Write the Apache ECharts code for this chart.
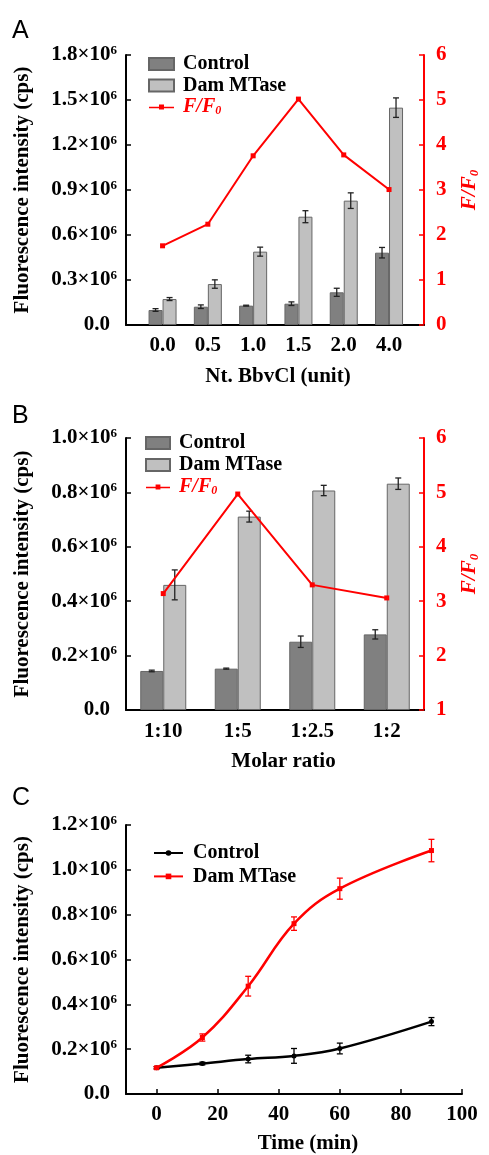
<!DOCTYPE html>
<html><head><meta charset="utf-8">
<script src="https://cdn.jsdelivr.net/npm/echarts@6/dist/echarts.min.js"></script>
<style>html,body{margin:0;padding:0;background:#fff}#c{width:489px;height:1155px}</style>
</head><body><div id="c"></div>
<script>
// ---------- DATA (intensities in units of 10^6 cps) ----------
const catsA = ['0.0', '0.5', '1.0', '1.5', '2.0', '4.0'];
const ctrlA = [0.100, 0.122, 0.129, 0.142, 0.218, 0.482];
const ctrlErrA = [0.009, 0.012, 0.003, 0.012, 0.027, 0.035];
const damA = [0.173, 0.273, 0.489, 0.722, 0.829, 1.449];
const damErrA = [0.010, 0.028, 0.030, 0.040, 0.052, 0.065];
const ratioA = [1.76, 2.24, 3.76, 5.02, 3.78, 3.01];

const catsB = ['1:10', '1:5', '1:2.5', '1:2'];
const ctrlB = [0.1435, 0.152, 0.251, 0.278];
const ctrlErrB = [0.003, 0.002, 0.021, 0.017];
const damB = [0.460, 0.711, 0.807, 0.832];
const damErrB = [0.055, 0.020, 0.019, 0.021];
const ratioB = [3.14, 4.97, 3.30, 3.06];

const timeC = [0, 15, 30, 45, 60, 90];
const ctrlC = [0.117, 0.136, 0.156, 0.170, 0.203, 0.323];
const ctrlErrC = [0.005, 0.006, 0.017, 0.033, 0.024, 0.018];
const damC = [0.117, 0.252, 0.481, 0.760, 0.916, 1.086];
const damErrC = [0.005, 0.016, 0.044, 0.030, 0.047, 0.050];
const timeTicks = [0, 20, 40, 60, 80, 100];

// ---------- STYLE ----------
const SERIF = '"Liberation Serif","Times New Roman",Times,serif';
const SANS = '"Liberation Sans",Arial,sans-serif';
const RED = '#ff0000';
const DARK = '#808080';
const LIGHT = '#c0c0c0';
const txt = (size, color, extra) => Object.assign({fontFamily: SERIF, fontWeight: 'bold', fontSize: size, color: color}, extra || {});

const yRich = {
  a: txt(21, '#000', {lineHeight: 22}),
  b: txt(13, '#000', {verticalAlign: 'top', lineHeight: 13}),
  z: txt(21, '#000', {lineHeight: 22, padding: [0, 7, 0, 0]})
};
const yFmt = v => (Math.abs(v) < 1e-9) ? '{z|0.0}' : '{a|' + v.toFixed(1) + '×10}{b|6}';

function leftY(gridIndex, max, interval) {
  return {
    type: 'value', gridIndex: gridIndex, min: 0, max: max, interval: interval, position: 'left',
    name: 'Fluorescence intensity (cps)', nameLocation: 'middle', nameGap: 93, nameRotate: 90,
    nameTextStyle: txt(21, '#000'),
    axisLine: {show: true, onZero: false, lineStyle: {color: '#000', width: 2}},
    axisTick: {show: true, inside: true, length: 5, lineStyle: {color: '#000', width: 1.5}},
    axisLabel: {margin: 9, formatter: yFmt, rich: yRich, color: '#000'},
    splitLine: {show: false}
  };
}
const ffRich = {
  i: txt(21, RED, {fontStyle: 'italic', lineHeight: 22}),
  s: txt(13, RED, {fontStyle: 'italic', verticalAlign: 'bottom', lineHeight: 13})
};
function rightY(gridIndex, min, max) {
  return {
    type: 'value', gridIndex: gridIndex, min: min, max: max, interval: 1, position: 'right',
    name: '{i|F/F}{s|0}', nameLocation: 'middle', nameGap: 35, nameRotate: 90,
    nameTextStyle: {rich: ffRich},
    axisLine: {show: true, onZero: false, lineStyle: {color: RED, width: 2}},
    axisTick: {show: true, inside: true, length: 5, lineStyle: {color: RED, width: 1.5}},
    axisLabel: txt(21, RED, {margin: 12}),
    splitLine: {show: false}
  };
}

function errRender(offset, color, cap) {
  return function (params, api) {
    const x = api.value(0), y = api.value(1), e = api.value(2);
    const top = api.coord([x, y + e]);
    const bot = api.coord([x, y - e]);
    const cx = top[0] + offset;
    const st = {stroke: color, lineWidth: 1.3, fill: null};
    return {type: 'group', children: [
      {type: 'line', shape: {x1: cx, y1: top[1], x2: cx, y2: bot[1]}, style: st},
      {type: 'line', shape: {x1: cx - cap, y1: top[1], x2: cx + cap, y2: top[1]}, style: st},
      {type: 'line', shape: {x1: cx - cap, y1: bot[1], x2: cx + cap, y2: bot[1]}, style: st}
    ]};
  };
}
function errSeries(name, xi, yi, xs, vals, errs, offset, color, cap) {
  return {
    type: 'custom', name: name, xAxisIndex: xi, yAxisIndex: yi, z: 3,
    renderItem: errRender(offset, color, cap),
    encode: {x: 0, y: 1},
    data: vals.map((v, i) => [xs[i], v, errs[i]]),
    silent: true
  };
}
const idxA = catsA.map((c, i) => i);
const idxB = catsB.map((c, i) => i);

const legRich = {
  n: txt(20, '#000', {lineHeight: 20, padding: [0, 0, 0, 4]}),
  i: txt(20, RED, {fontStyle: 'italic', lineHeight: 20, padding: [0, 0, 0, 4]}),
  s: txt(12, RED, {fontStyle: 'italic', verticalAlign: 'bottom', lineHeight: 12})
};
const legFmt = name => name.indexOf('F/F') === 0 ? '{i|F/F}{s|0}' : '{n|' + name.trim() + '}';
const ffIcon = 'path://M0,2.2H25V3.8H0Z M10,0H15V5H10Z';

const barStyle = c => ({color: c, borderColor: '#666', borderWidth: 1});

const option = {
  animation: false,
  backgroundColor: '#fff',
  graphic: [
    {type: 'text', left: 12, top: 19, style: {text: 'A', fontSize: 25, fontFamily: SANS, fill: '#000'}},
    {type: 'text', left: 12, top: 404, style: {text: 'B', fontSize: 25, fontFamily: SANS, fill: '#000'}},
    {type: 'text', left: 12, top: 786, style: {text: 'C', fontSize: 25, fontFamily: SANS, fill: '#000'}}
  ],
  grid: [
    {left: 126, right: 59, top: 55, height: 270},
    {left: 126, right: 59, top: 438, height: 272},
    {left: 126, width: 336, top: 825, height: 270}
  ],
  legend: [
    {data: [{name: 'Control', icon: 'rect'}, {name: 'Dam MTase', icon: 'rect'}, {name: 'F/F0', icon: ffIcon, itemStyle: {color: RED, borderWidth: 0}}],
     orient: 'vertical', left: 148, top: 54, padding: 0, itemWidth: 25, itemHeight: 12, itemGap: 1.5,
     selectedMode: false, formatter: legFmt, textStyle: {rich: legRich}},
    {data: [{name: 'Control ', icon: 'rect'}, {name: 'Dam MTase ', icon: 'rect'}, {name: 'F/F0 ', icon: ffIcon, itemStyle: {color: RED, borderWidth: 0}}],
     orient: 'vertical', left: 145, top: 433, padding: 0, itemWidth: 24, itemHeight: 12, itemGap: 2,
     selectedMode: false, formatter: legFmt, textStyle: {rich: legRich}},
    {data: [{name: 'Control  '}, {name: 'Dam MTase  '}],
     orient: 'vertical', left: 153, top: 843, padding: 0, itemWidth: 29, itemHeight: 7, itemGap: 3.4,
     selectedMode: false, formatter: legFmt, textStyle: {rich: {n: txt(20, '#000', {lineHeight: 20, padding: [0, 0, 0, 5]})}}}
  ],
  xAxis: [
    {type: 'value', gridIndex: 0, min: -0.807, max: 5.772,
     name: 'Nt. BbvCl (unit)', nameLocation: 'middle', nameGap: 41, nameTextStyle: txt(21, '#000', {padding: [0, 0, 0, 6]}),
     axisLine: {show: true, onZero: false, lineStyle: {color: '#000', width: 2}},
     axisTick: {show: false},
     axisLabel: txt(21, '#000', {margin: 10, customValues: idxA, formatter: v => catsA[Math.round(v)]}),
     splitLine: {show: false}},
    {type: 'category', gridIndex: 1, data: catsB, boundaryGap: true,
     name: 'Molar ratio', nameLocation: 'middle', nameGap: 41, nameTextStyle: txt(21, '#000', {padding: [0, 0, 0, 17]}),
     axisLine: {show: true, onZero: false, lineStyle: {color: '#000', width: 2}},
     axisTick: {show: false},
     axisLabel: txt(21, '#000', {margin: 11}),
     splitLine: {show: false}},
    {type: 'value', gridIndex: 2, min: -10, max: 100,
     name: 'Time (min)', nameLocation: 'middle', nameGap: 39, nameTextStyle: txt(21, '#000', {padding: [0, 0, 0, 28]}),
     axisLine: {show: true, onZero: false, lineStyle: {color: '#000', width: 2}},
     axisTick: {show: true, inside: true, length: 5, customValues: timeTicks, lineStyle: {color: '#000', width: 1.5}},
     axisLabel: txt(21, '#000', {margin: 10, customValues: timeTicks}),
     splitLine: {show: false}}
  ],
  yAxis: [
    leftY(0, 1.8, 0.3),
    rightY(0, 0, 6),
    leftY(1, 1.0, 0.2),
    rightY(1, 1, 6),
    leftY(2, 1.2, 0.2)
  ],
  series: [
    // Panel A
    {type: 'bar', name: 'Control', xAxisIndex: 0, yAxisIndex: 0, barWidth: 14, barGap: '0%',
     itemStyle: barStyle(DARK), data: ctrlA.map((v, i) => [idxA[i], v])},
    {type: 'bar', name: 'Dam MTase', xAxisIndex: 0, yAxisIndex: 0, barWidth: 14, barGap: '0%',
     itemStyle: barStyle(LIGHT), data: damA.map((v, i) => [idxA[i], v])},
    errSeries('errA1', 0, 0, idxA, ctrlA, ctrlErrA, -7, '#222', 3),
    errSeries('errA2', 0, 0, idxA, damA, damErrA, 7, '#222', 3),
    {type: 'line', name: 'F/F0', xAxisIndex: 0, yAxisIndex: 1, z: 4,
     symbol: 'rect', symbolSize: 5, lineStyle: {color: RED, width: 2}, itemStyle: {color: RED},
     data: ratioA.map((v, i) => [idxA[i], v])},
    // Panel B
    {type: 'bar', name: 'Control ', xAxisIndex: 1, yAxisIndex: 2, barWidth: 23, barGap: '0%',
     itemStyle: barStyle(DARK), data: ctrlB},
    {type: 'bar', name: 'Dam MTase ', xAxisIndex: 1, yAxisIndex: 2, barWidth: 23, barGap: '0%',
     itemStyle: barStyle(LIGHT), data: damB},
    errSeries('errB1', 1, 2, idxB, ctrlB, ctrlErrB, -11.5, '#222', 3),
    errSeries('errB2', 1, 2, idxB, damB, damErrB, 11.5, '#222', 3),
    {type: 'line', name: 'F/F0 ', xAxisIndex: 1, yAxisIndex: 3, z: 4,
     symbol: 'rect', symbolSize: 5, lineStyle: {color: RED, width: 2}, itemStyle: {color: RED},
     data: ratioB},
    // Panel C
    errSeries('errC1', 2, 4, timeC, ctrlC, ctrlErrC, 0, '#000', 3),
    errSeries('errC2', 2, 4, timeC, damC, damErrC, 0, RED, 3),
    {type: 'line', name: 'Control  ', xAxisIndex: 2, yAxisIndex: 4, z: 4, smooth: 0.4,
     symbol: 'circle', symbolSize: 5, lineStyle: {color: '#000', width: 2.5}, itemStyle: {color: '#000'},
     data: ctrlC.map((v, i) => [timeC[i], v])},
    {type: 'line', name: 'Dam MTase  ', xAxisIndex: 2, yAxisIndex: 4, z: 4, smooth: 0.4,
     symbol: 'rect', symbolSize: 5, lineStyle: {color: RED, width: 2.5}, itemStyle: {color: RED},
     data: damC.map((v, i) => [timeC[i], v])}
  ]
};
const chart = echarts.init(document.getElementById('c'), null, {renderer: 'canvas'});
chart.setOption(option);
</script>
</body></html>
